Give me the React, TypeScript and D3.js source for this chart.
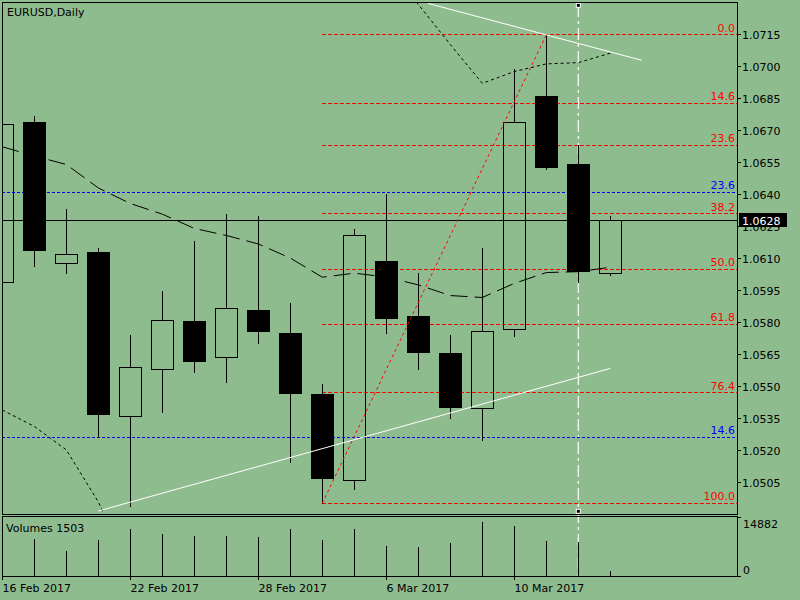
import React from "react";
import * as d3 from "d3";

const dates = ["2017-02-16","2017-02-17","2017-02-20","2017-02-21","2017-02-22","2017-02-23","2017-02-24","2017-02-27","2017-02-28","2017-03-01","2017-03-02","2017-03-03","2017-03-06","2017-03-07","2017-03-08","2017-03-09","2017-03-10","2017-03-13","2017-03-14","2017-03-15"];
const opens = [1.05988,1.06739,1.06077,1.06129,1.05360,1.05580,1.05802,1.05636,1.05858,1.05750,1.05460,1.05059,1.06088,1.05830,1.05652,1.05397,1.05768,1.06861,1.06539,1.06030];
const highs = [1.06800,1.06769,1.06332,1.06148,1.05741,1.05948,1.06182,1.06307,1.06299,1.05891,1.05511,1.06238,1.06403,1.06031,1.05741,1.06148,1.06988,1.07150,1.06633,1.06299];
const lows = [1.05900,1.06059,1.06029,1.05256,1.04935,1.05377,1.05564,1.05517,1.05697,1.05139,1.04947,1.05015,1.05747,1.05578,1.05348,1.05245,1.05730,1.06517,1.05984,1.06020];
const closes = [1.06730,1.06139,1.06120,1.05367,1.05590,1.05810,1.05616,1.05866,1.05757,1.05466,1.05067,1.06209,1.05818,1.05658,1.05403,1.05758,1.06739,1.06526,1.06038,1.06280];
const volumes = [11000,10197,6890,9922,12953,11575,11024,11024,10748,12953,9922,12953,8268,7992,9095,14882,13780,9646,9370,1503];
const maMid = [1.06624,1.06581,1.06541,1.06431,1.06358,1.06308,1.06241,1.06208,1.06168,1.06102,1.06012,1.06031,1.06013,1.05976,1.05926,1.05917,1.05983,1.06034,1.06038,1.06059];
const lowerBand: (number | null)[] = [1.05389,1.05312,1.05202,1.04958,1.04643,null,null,null,null,null,null,null,null,null,null,null,null,null,null,null];
const upperBand: (number | null)[] = [null,null,null,null,null,null,null,null,null,null,null,null,1.07479,1.07292,1.07104,1.06922,1.06977,1.07013,1.07019,1.07063];
const priceTicks = [1.0715,1.0700,1.0685,1.0670,1.0655,1.0640,1.0625,1.0610,1.0595,1.0580,1.0565,1.0550,1.0535,1.0520,1.0505];
const fibLevels = [0, 14.6, 23.6, 38.2, 50.0, 61.8, 76.4, 100.0];
const fibHigh = 1.0715;
const fibLow = 1.04951;
const fibLowIdx = 10;
const fibHighIdx = 17;
const blueLevelLabels = ["23.6", "14.6"];
const blueLevelPrices = [1.06411, 1.05261];
const bidPrice = 1.0628;
const trendLowerIdx = [3, 19];
const trendLowerPrice = [1.04915, 1.05584];
const trendUpperIdx = [13.3, 19.98];
const trendUpperPrice = [1.07297, 1.0703];
const vLineIdx = 18;
const dateLabelIdx = [0, 4, 8, 12, 16];

const BG = "#8fbc8f";
const FONT = "DejaVu Sans";

export default function App() {
  const L = 2.3, R = 737.3, T = 2.3, B = 514;
  const vT = 516, vB = 576;
  const x = d3.scaleLinear().domain([0, 1]).range([2.3, 34.3]);
  const y = d3.scaleLinear().domain([1.04901, 1.07302]).range([B, T]);
  const vy = d3.scaleLinear().domain([0, d3.max(volumes) as number]).range([vB, 522]);
  const fmtDate = d3.timeFormat("%-d %b %Y");
  const parse = d3.timeParse("%Y-%m-%d");

  const lineGen = d3.line<number | null>()
    .defined((d) => d !== null)
    .x((_, i) => x(i))
    .y((d) => y(d as number));

  const n = dates.length;
  const bodyHalf = 11;

  return (
    <svg width={800} height={600} style={{ position: "absolute", left: 0, top: 0 }} fontFamily={FONT} fontSize={11}>
      <rect x={0} y={0} width={800} height={600} fill={BG} />
      <defs>
        <clipPath id="mainclip">
          <rect x={L} y={T} width={R - L} height={B - T} />
        </clipPath>
      </defs>

      {/* vertical dashed white line */}
      <line x1={x(vLineIdx)} x2={x(vLineIdx)} y1={5} y2={vB} stroke="#fff" strokeWidth={1.2} strokeDasharray="12,4,3,4" />

      <g clipPath="url(#mainclip)">
        {/* horizontal blue levels */}
        {blueLevelPrices.map((p, i) => (
          <line key={"bl" + i} x1={L} x2={R} y1={y(p)} y2={y(p)} stroke="#0000ff" strokeDasharray="3,2" shapeRendering="crispEdges" />
        ))}
        {/* fib levels */}
        {fibLevels.map((lv, i) => {
          const p = fibHigh - (lv / 100) * (fibHigh - fibLow);
          return <line key={"fb" + i} x1={x(fibLowIdx)} x2={R} y1={y(p)} y2={y(p)} stroke="#ff0000" strokeDasharray="4,2" shapeRendering="crispEdges" />;
        })}
        {/* bid line */}
        <line x1={L} x2={R} y1={y(bidPrice)} y2={y(bidPrice)} stroke="#000" shapeRendering="crispEdges" />
        {/* indicator lines */}
        <path d={lineGen(maMid) || ""} fill="none" stroke="#000" strokeDasharray="17,7" />
        <path d={lineGen(lowerBand) || ""} fill="none" stroke="#000" strokeDasharray="3,3" />
        <path d={lineGen(upperBand) || ""} fill="none" stroke="#000" strokeDasharray="3,3" />

        {/* candles */}
        {dates.map((d, i) => {
          const o = opens[i], c = closes[i], h = highs[i], l = lows[i];
          const cx = Math.round(x(i)) + 0.5;
          const top = y(Math.max(o, c));
          const bot = y(Math.min(o, c));
          const bull = c >= o;
          return (
            <g key={d} shapeRendering="crispEdges">
              <line x1={cx} x2={cx} y1={y(h)} y2={top} stroke="#000" />
              <line x1={cx} x2={cx} y1={bot} y2={y(l)} stroke="#000" />
              <rect x={cx - bodyHalf} y={top} width={bodyHalf * 2} height={Math.max(1, bot - top)}
                fill={bull ? "none" : "#000"} stroke="#000" />
            </g>
          );
        })}

        {/* fib diagonal */}
        <line x1={x(fibLowIdx)} y1={y(fibLow)} x2={x(fibHighIdx)} y2={y(fibHigh)} stroke="#ff0000" strokeDasharray="3,3" />
        {/* white trendlines */}
        <line x1={x(trendLowerIdx[0])} y1={y(trendLowerPrice[0])} x2={x(trendLowerIdx[1])} y2={y(trendLowerPrice[1])} stroke="#fff" />
        <line x1={x(trendUpperIdx[0])} y1={y(trendUpperPrice[0])} x2={x(trendUpperIdx[1])} y2={y(trendUpperPrice[1])} stroke="#fff" />

        {/* fib labels */}
        {fibLevels.map((lv, i) => {
          const p = fibHigh - (lv / 100) * (fibHigh - fibLow);
          return <text key={"ft" + i} x={735} y={y(p) - 3} textAnchor="end" fill="#ff0000">{lv.toFixed(1)}</text>;
        })}
        {blueLevelPrices.map((p, i) => (
          <text key={"bt" + i} x={735} y={y(p) - 3} textAnchor="end" fill="#0000ff">{blueLevelLabels[i]}</text>
        ))}
      </g>

      {/* markers on vertical line */}
      <rect x={x(vLineIdx) - 2} y={3.3} width={4} height={4} fill="#000" stroke="#fff" />
      <rect x={x(vLineIdx) - 2} y={509.3} width={4} height={4} fill="#000" stroke="#fff" />

      {/* main frame */}
      <rect x={L} y={T} width={R - L} height={B - T} fill="none" stroke="#000" shapeRendering="crispEdges" />
      <text x={7} y={16} fill="#000">EURUSD,Daily</text>

      {/* price axis */}
      {priceTicks.map((p) => (
        <g key={p}>
          <line x1={R} x2={R + 4} y1={y(p)} y2={y(p)} stroke="#000" shapeRendering="crispEdges" />
          <text x={742} y={y(p) + 4.5} fill="#000">{p.toFixed(4)}</text>
        </g>
      ))}
      <rect x={739} y={213} width={48} height={14} fill="#000" />
      <text x={742} y={y(bidPrice) + 4.5} fill="#fff">{bidPrice.toFixed(4)}</text>

      {/* volume panel */}
      <g shapeRendering="crispEdges">
        {volumes.map((v, i) => (
          <line key={"v" + i} x1={Math.round(x(i)) + 0.5} x2={Math.round(x(i)) + 0.5} y1={vB} y2={vy(v)} stroke="#000" />
        ))}
        <rect x={L} y={vT} width={R - L} height={vB - vT} fill="none" stroke="#000" />
        <line x1={R} x2={R + 4} y1={517} y2={517} stroke="#000" />
        <line x1={R} x2={R + 4} y1={vB} y2={vB} stroke="#000" />
        {dateLabelIdx.map((i) => (
          <line key={"dt" + i} x1={Math.round(x(i)) + 0.5} x2={Math.round(x(i)) + 0.5} y1={vB} y2={vB + 4} stroke="#000" />
        ))}
      </g>
      <text x={6} y={531.5} fill="#000">{"Volumes " + volumes[n - 1]}</text>
      <text x={743} y={527.8} fill="#000">{String(d3.max(volumes))}</text>
      <text x={743} y={574.2} fill="#000">0</text>

      {/* date labels */}
      {dateLabelIdx.map((i) => (
        <text key={"dl" + i} x={Math.round(x(i)) + 0.5} y={592} fill="#000">{fmtDate(parse(dates[i]) as Date)}</text>
      ))}
    </svg>
  );
}
